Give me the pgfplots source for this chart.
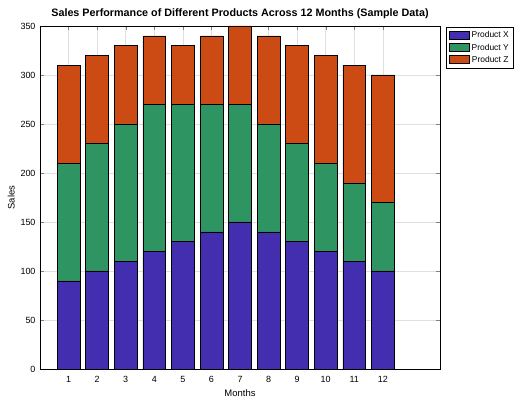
\documentclass[border=0pt]{standalone}
\usepackage{pgfplots}
\pgfplotsset{compat=1.18}
\usepackage{fontspec}
\setmainfont{Liberation Sans}
\definecolor{cX}{RGB}{68,46,176}
\definecolor{cY}{RGB}{46,148,98}
\definecolor{cZ}{RGB}{204,74,20}
\begin{document}
\begin{tikzpicture}
\path[use as bounding box] (-40bp,-33bp) rectangle (485bp,369bp);
\begin{axis}[
  at={(0,0)}, anchor=south west,
  scale only axis, width=400bp, height=343bp,
  ybar stacked, bar width=0.8,
  xmin=0, xmax=14, ymin=0, ymax=350,
  xtick={1,...,12}, ytick={0,50,...,350},
  tick align=inside, major tick length=4bp,
  grid=major, grid style={gray!25, line width=0.5pt},
  font=\fontsize{9}{10}\selectfont,
  /pgf/number format/assume math mode=true,
  xticklabel style={yshift=-4bp},
  yticklabel style={xshift=-1bp},
  xlabel={Months}, ylabel={Sales},
  label style={font=\fontsize{9.5}{11}\selectfont},
  xlabel style={yshift=0pt}, ylabel style={yshift=-1pt},
  title={\bfseries Sales Performance of Different Products Across 12 Months (Sample Data)},
  title style={font=\fontsize{10.8}{12}\selectfont, yshift=-2pt},
  legend style={at={(1.015,0.997)}, anchor=north west, font=\fontsize{8.5}{10}\selectfont,
    draw=black, line width=0.5pt, inner sep=2.5pt, row sep=0.5pt},
  legend image code/.code={\draw[#1, line width=0.5pt] (0cm,-0.13cm) rectangle (0.72cm,0.15cm);},
]
\addplot[fill=cX, draw=black, line width=0.5pt] coordinates {(1,90) (2,100) (3,110) (4,120) (5,130) (6,140) (7,150) (8,140) (9,130) (10,120) (11,110) (12,100)};
\addplot[fill=cY, draw=black, line width=0.5pt] coordinates {(1,120) (2,130) (3,140) (4,150) (5,140) (6,130) (7,120) (8,110) (9,100) (10,90) (11,80) (12,70)};
\addplot[fill=cZ, draw=black, line width=0.5pt] coordinates {(1,100) (2,90) (3,80) (4,70) (5,60) (6,70) (7,80) (8,90) (9,100) (10,110) (11,120) (12,130)};
\legend{Product X, Product Y, Product Z}
\end{axis}
\end{tikzpicture}
\end{document}
